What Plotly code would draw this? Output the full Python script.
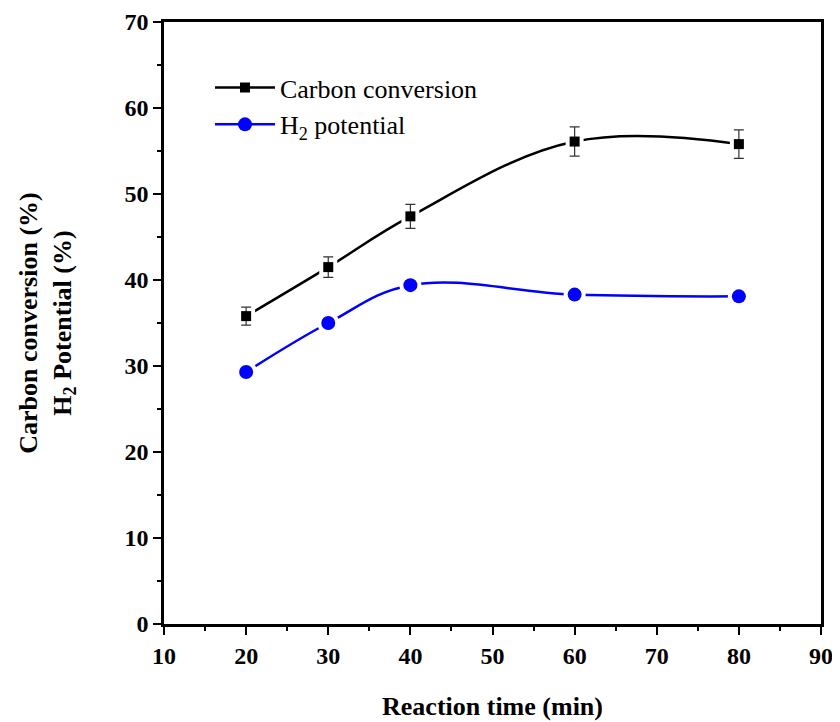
import plotly.graph_objects as go

time_min = [20, 30, 40, 60, 80]
carbon_conv = [35.8, 41.5, 47.4, 56.1, 55.8]
carbon_err = [1.05, 1.2, 1.4, 1.7, 1.65]
h2_potential = [29.3, 35.0, 39.4, 38.3, 38.1]

x_ticks = [10, 20, 30, 40, 50, 60, 70, 80, 90]
y_ticks = [0, 10, 20, 30, 40, 50, 60, 70]

FONT = "Liberation Serif"
fig = go.Figure()

series = [
    ("Carbon conversion", carbon_conv, carbon_err, "black", "square", 10, 18),
    ("H<sub>2</sub> potential", h2_potential, None, "blue", "circle", 14, 22),
]

for name, ys, err, color, sym, size, gap in series:
    fig.add_trace(go.Scatter(
        x=time_min, y=ys, mode="lines+markers",
        line=dict(color=color, width=2.5, shape="spline", smoothing=1.1),
        marker=dict(symbol=sym, size=gap, color="white", line=dict(width=0)),
        showlegend=False, hoverinfo="skip",
    ))
    fig.add_trace(go.Scatter(
        x=time_min, y=ys, mode="markers",
        marker=dict(symbol=sym, size=size, color=color, line=dict(width=0)),
        error_y=(dict(type="data", array=err, visible=True, color="#333333",
                      thickness=1.2, width=5) if err else None),
        showlegend=False,
    ))
    fig.add_trace(go.Scatter(
        x=[None], y=[None], mode="lines+markers", name=name,
        line=dict(color=color, width=2.5),
        marker=dict(symbol=sym, size=size, color=color),
    ))

axis_common = dict(
    showline=True, linecolor="black", linewidth=2.5, mirror=True,
    ticks="outside", ticklen=8, tickwidth=2, tickcolor="black",
    showgrid=False, zeroline=False, automargin=False,
    tickfont=dict(family=FONT, size=24, color="black", weight="bold"),
)

fig.update_xaxes(
    range=[10, 90], tickvals=x_ticks,
    minor=dict(ticks="outside", ticklen=4, tickwidth=2, dtick=5, tick0=0, tickcolor="black"),
    title=dict(text="<b>Reaction time (min)</b>", font=dict(family=FONT, size=26, color="black"),
               standoff=30),
    **axis_common,
)
fig.update_yaxes(
    range=[0, 70], tickvals=y_ticks,
    minor=dict(ticks="outside", ticklen=4, tickwidth=2, dtick=5, tick0=0, tickcolor="black"),
    title=dict(text="<b>Carbon conversion (%)<br>H<sub>2</sub> Potential (%)</b>",
               font=dict(family=FONT, size=26, color="black"), standoff=46),
    **axis_common,
)

fig.update_layout(
    width=840, height=722,
    margin=dict(l=156, r=27, t=14, b=106),
    paper_bgcolor="white", plot_bgcolor="white",
    legend=dict(x=0.07, y=0.93, xanchor="left", yanchor="top",
                bgcolor="rgba(0,0,0,0)", font=dict(family=FONT, size=26, color="black"),
                itemwidth=60, tracegroupgap=0),
    showlegend=True,
)

fig.write_html("out.html")
